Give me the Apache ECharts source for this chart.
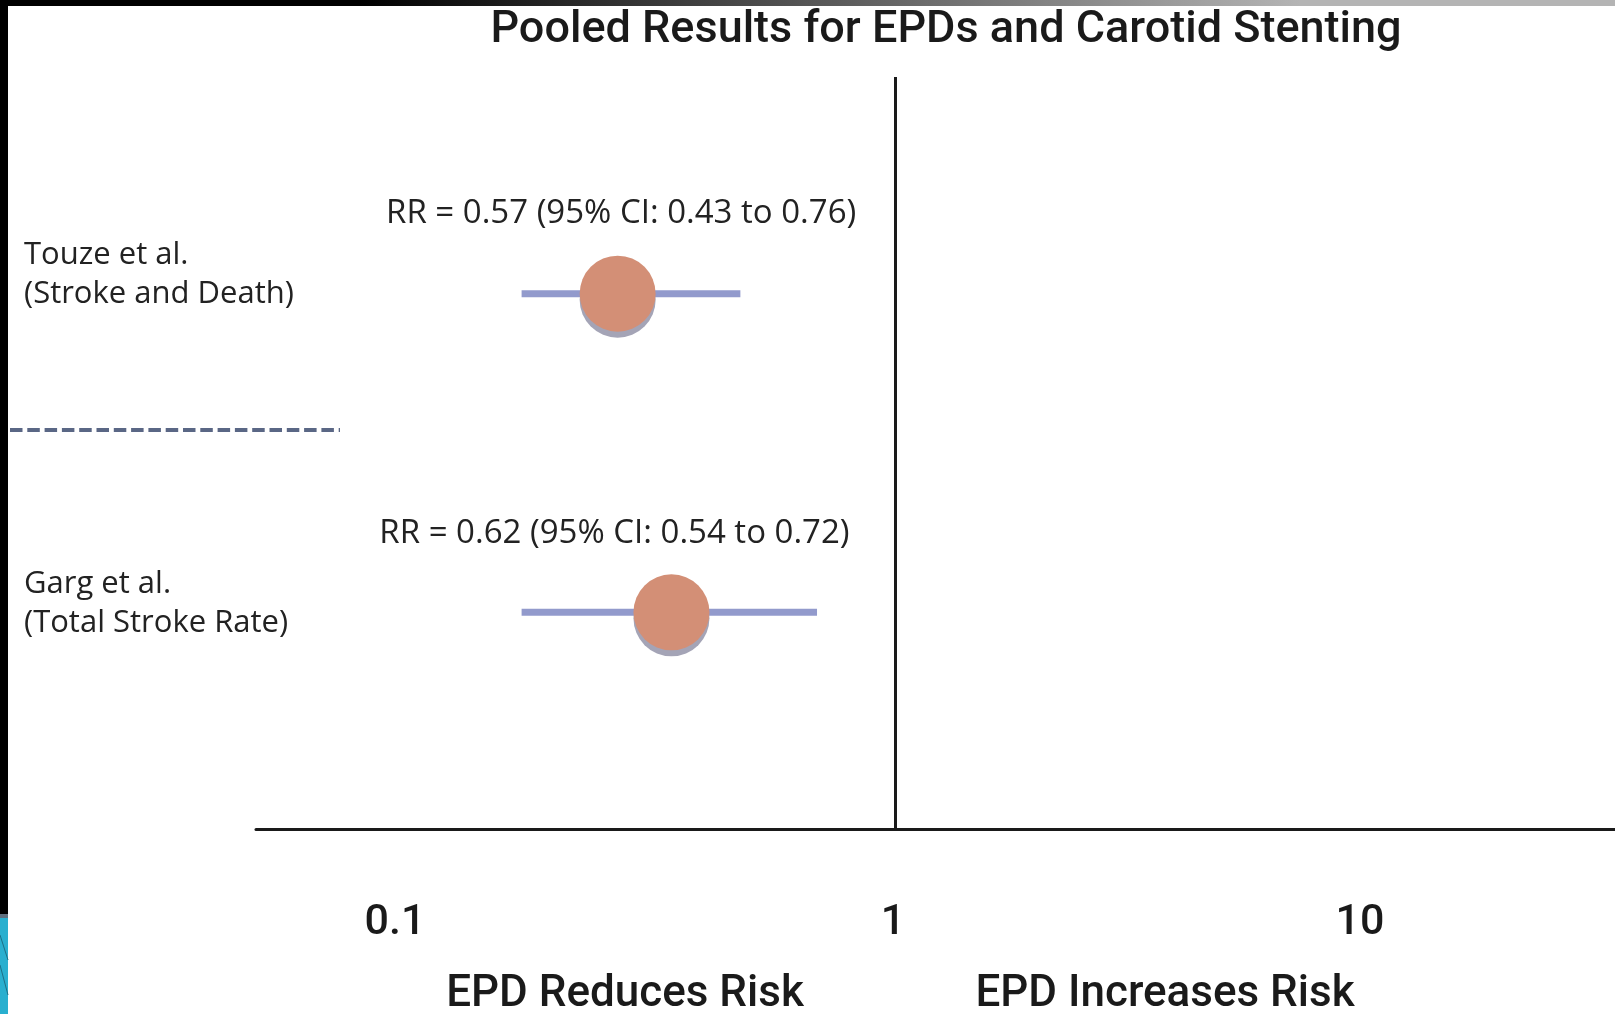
<!DOCTYPE html>
<html>
<head>
<meta charset="utf-8">
<script src="https://cdn.jsdelivr.net/npm/echarts@6/dist/echarts.min.js"></script>
<style>
html,body{margin:0;padding:0;background:#ffffff;}
#chart{width:1615px;height:1014px;}
</style>
</head>
<body>
<div id="chart"></div>
<script>
// ---------- data ----------
const titleText = 'Pooled Results for EPDs and Carotid Stenting';
const studies = ['Touze et al.', 'Garg et al.'];
const outcomes = ['(Stroke and Death)', '(Total Stroke Rate)'];
const rows = [1, 2];
// values printed in the figure
const rrReported = [0.57, 0.62];
const ciLowReported = [0.43, 0.54];
const ciHighReported = [0.76, 0.72];
// where the marks sit on the drawn (schematic) log axis
const rrPlotted = [0.267, 0.345];
const ciLowPlotted = [0.169, 0.169];
const ciHighPlotted = [0.479, 0.690];
const tickLabels = [0.1, 1, 10];
const sideLabels = ['EPD Reduces Risk', 'EPD Increases Risk'];

// ---------- styling ----------
const TXT = 'Open Sans';
const HEAD = 'Roboto';
const INK = '#1a1a1a';

const chart = echarts.init(document.getElementById('chart'), null, {renderer: 'canvas'});

const labelOffsets = [[3.5, -80.5], [-57, -78.5]];

const option = {
  backgroundColor: '#ffffff',
  animation: false,
  title: {
    text: titleText,
    left: 946, top: 31, padding: 0,
    textAlign: 'center', textVerticalAlign: 'middle',
    textStyle: {fontFamily: HEAD, fontWeight: 500, fontSize: 45, color: INK}
  },
  grid: {left: 256, right: 0, top: 77, bottom: 185},
  xAxis: {
    type: 'log', logBase: 10,
    min: 0.04771, max: 30.84,
    axisLine: {show: true, onZero: false, lineStyle: {color: INK, width: 3}},
    axisTick: {show: false},
    splitLine: {show: false},
    minorTick: {show: false},
    minorSplitLine: {show: false},
    axisLabel: {
      show: true, margin: 72,
      showMinLabel: false, showMaxLabel: false,
      formatter: function (v) {
        const e = Math.log10(v), k = Math.round(e);
        if (Math.abs(e - k) > 1e-6) return '';
        const idx = tickLabels.findIndex(t => Math.round(Math.log10(t)) === k);
        if (idx < 0) return '';
        return '{t' + idx + '|' + tickLabels[idx] + '}';
      },
      rich: {
        t0: {fontFamily: HEAD, fontWeight: 500, fontSize: 43, lineHeight: 44, color: INK, padding: [0, 33, 0, 0]},
        t1: {fontFamily: HEAD, fontWeight: 500, fontSize: 43, lineHeight: 44, color: INK, padding: [0, 4, 0, 0]},
        t2: {fontFamily: HEAD, fontWeight: 500, fontSize: 43, lineHeight: 44, color: INK, padding: [0, 37, 0, 0]}
      }
    }
  },
  yAxis: {
    type: 'value', min: 0.32, max: 2.68, inverse: true,
    axisLine: {show: false}, axisTick: {show: false}, splitLine: {show: false},
    axisLabel: {
      customValues: rows,
      margin: 232, align: 'left', verticalAlign: 'middle',
      formatter: function (v) {
        const i = rows.indexOf(Math.round(v));
        if (i < 0) return '';
        return '{n|' + studies[i] + '}\n{n|' + outcomes[i] + '}\n{s' + i + '| }';
      },
      rich: {
        n: {fontFamily: TXT, fontSize: 31, lineHeight: 39, color: '#222'},
        s0: {fontSize: 8, lineHeight: 38},
        s1: {fontSize: 8, lineHeight: 18}
      }
    }
  },
  series: [
    {
      type: 'custom', name: '95% CI',
      data: rows.map((r, i) => [ciLowPlotted[i], ciHighPlotted[i], r]),
      encode: {x: [0, 1], y: 2},
      renderItem: function (params, api) {
        const a = api.coord([api.value(0), api.value(2)]);
        const b = api.coord([api.value(1), api.value(2)]);
        return {
          type: 'line',
          shape: {x1: a[0], y1: a[1], x2: b[0], y2: b[1]},
          style: {stroke: '#929ACC', lineWidth: 7}
        };
      },
      z: 2,
      silent: true,
      markLine: {
        silent: true, symbol: 'none', animation: false,
        label: {show: false},
        lineStyle: {color: INK, width: 3, type: 'solid'},
        emphasis: {disabled: true},
        data: [{xAxis: 1}]
      }
    },
    {
      type: 'scatter', name: 'RR',
      data: rows.map((r, i) => ({value: [rrPlotted[i], r], label: {offset: labelOffsets[i]}})),
      symbol: 'circle', symbolSize: 76,
      itemStyle: {color: '#D38F76', opacity: 1, shadowColor: '#A4A4B6', shadowOffsetY: 6, shadowBlur: 0},
      z: 3,
      silent: true,
      emphasis: {disabled: true},
      label: {
        show: true, position: 'inside',
        fontFamily: TXT, fontSize: 33, color: '#222',
        formatter: function (p) {
          const i = p.dataIndex;
          return 'RR = ' + rrReported[i].toFixed(2) + ' (95% CI: ' + ciLowReported[i].toFixed(2) +
                 ' to ' + ciHighReported[i].toFixed(2) + ')';
        }
      }
    }
  ],
  graphic: [
    {type: 'rect', silent: true, shape: {x: 0, y: 0, width: 1615, height: 6},
     style: {fill: new echarts.graphic.LinearGradient(0, 0, 1, 0, [
       {offset: 0, color: '#000000'}, {offset: 0.223, color: '#000000'},
       {offset: 0.805, color: '#b4b4b4'}, {offset: 1, color: '#b4b4b4'}])}},
    {type: 'rect', silent: true, shape: {x: 0, y: 0, width: 8, height: 914}, style: {fill: '#000000'}},
    {type: 'rect', silent: true, shape: {x: 0, y: 914, width: 8, height: 4}, style: {fill: '#5f6f7f'}},
    {type: 'rect', silent: true, shape: {x: 0, y: 918, width: 8, height: 96}, style: {fill: '#29AFCF'}},
    {type: 'line', silent: true, shape: {x1: 0, y1: 935, x2: 8, y2: 960}, style: {stroke: '#1d6f86', lineWidth: 1}},
    {type: 'line', silent: true, shape: {x1: 0, y1: 965, x2: 8, y2: 995}, style: {stroke: '#1d6f86', lineWidth: 1}},
    {type: 'line', silent: true, shape: {x1: 10, y1: 430, x2: 340, y2: 430},
     style: {stroke: '#5A6785', lineWidth: 4, lineDash: [12.5, 4.8]}},
    {type: 'text', silent: true, x: 625, y: 995,
     style: {text: sideLabels[0], fill: INK, fontFamily: HEAD, fontWeight: 500, fontSize: 44,
             align: 'center', verticalAlign: 'middle', textAlign: 'center', textVerticalAlign: 'middle'}},
    {type: 'text', silent: true, x: 1165, y: 995,
     style: {text: sideLabels[1], fill: INK, fontFamily: HEAD, fontWeight: 500, fontSize: 44,
             align: 'center', verticalAlign: 'middle', textAlign: 'center', textVerticalAlign: 'middle'}}
  ]
};
chart.setOption(option);
</script>
</body>
</html>
